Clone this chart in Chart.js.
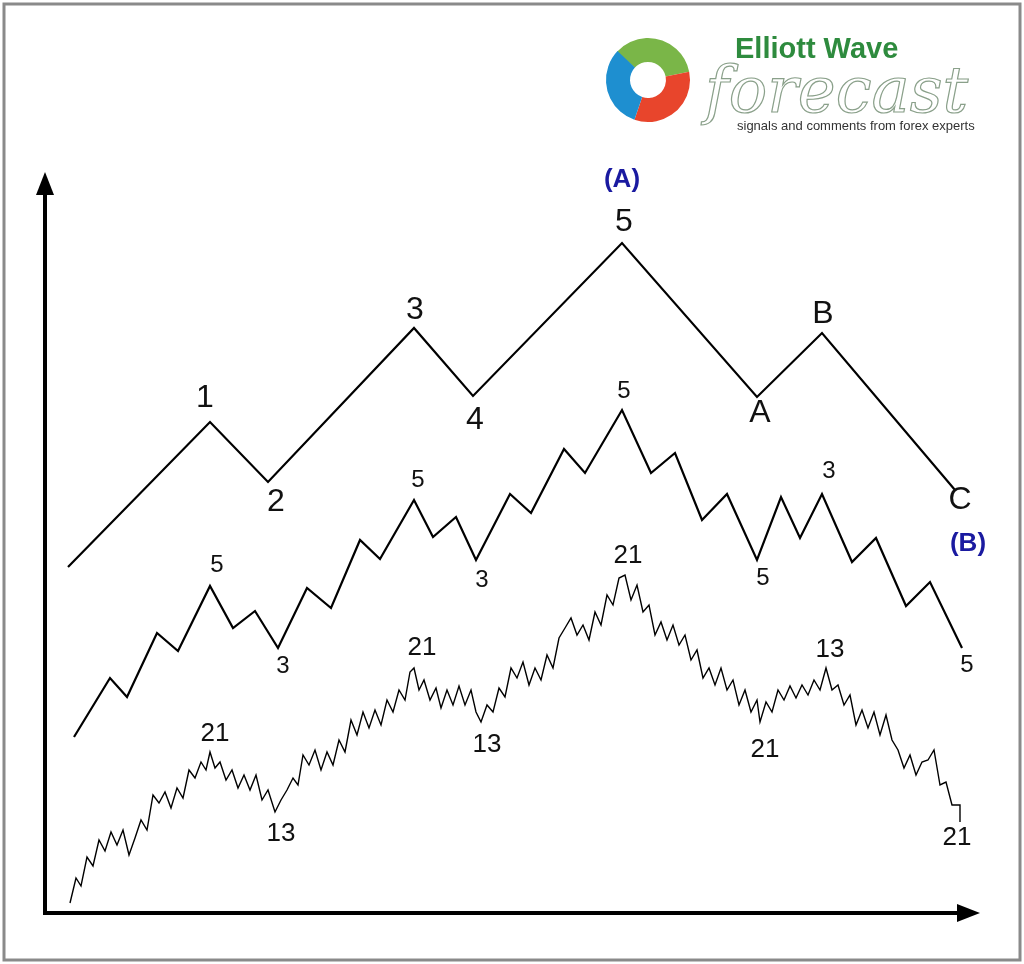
<!DOCTYPE html>
<html><head><meta charset="utf-8">
<script src="https://cdn.jsdelivr.net/npm/chart.js@4"></script>
<style>html,body{margin:0;padding:0;background:#fff}#w{width:1024px;height:964px}</style>
</head><body><div id="w"><canvas id="c"></canvas></div>
<script>
// Wave paths (x, y) in diagram units
const waveDegree1 = [[68,567],[210,422],[268,482],[414,328],[473,396],[622,243],[757,397],[822,333],[955,490]];
const waveDegree2 = [[74,737],[110,678],[127,697],[157,633],[178,651],[210,586],[233,628],[255,611],[278,648],[307,588],[331,608],[360,540],[380,559],[414,500],[433,537],[456,517],[476,560],[510,494],[531,513],[564,449],[585,473],[622,410],[651,473],[675,453],[702,520],[727,494],[757,560],[781,497],[800,538],[822,494],[852,562],[876,538],[906,606],[930,582],[962,648]];
const waveDegree3 = [[70,903],[76,878],[81,886],[87,857],[93,866],[99,840],[105,851],[111,832],[117,845],[123,830],[129,855],[135,838],[141,820],[147,830],[153,795],[159,803],[165,792],[171,808],[177,788],[183,798],[189,770],[195,778],[201,762],[206,770],[210,752],
[215,768],[220,762],[226,780],[232,770],[238,788],[244,775],[250,790],[256,775],[262,800],[268,790],[275,812],
[281,800],[287,790],[293,778],[298,785],[303,755],[309,765],[315,750],[321,770],[327,752],[333,765],[339,740],[345,752],[351,720],[357,735],[363,712],[369,728],[375,710],[381,725],[387,700],[393,712],[399,690],[405,700],[410,672],[414,668],
[419,690],[424,680],[430,700],[436,688],[441,708],[447,690],[453,705],[459,686],[465,705],[471,690],[476,712],[481,722],
[487,705],[493,712],[499,688],[505,697],[511,668],[517,678],[523,662],[529,685],[535,668],[541,680],[547,655],[553,668],[559,638],[565,628],[571,618],[577,635],[583,625],[589,640],[595,612],[601,625],[607,595],[613,605],[619,578],[625,575],
[631,600],[637,585],[643,612],[649,605],[655,635],[661,622],[667,640],[673,625],[679,645],[685,635],[691,660],[697,650],[703,678],[709,668],[715,685],[721,668],[727,690],[733,680],[739,705],[745,690],[751,712],[757,700],[760,722],
[766,702],[772,712],[778,690],[784,700],[790,686],[796,698],[802,685],[808,695],[814,680],[820,690],[826,668],
[832,690],[838,685],[844,705],[850,695],[856,725],[862,710],[868,728],[874,712],[880,735],[886,715],[892,740],[898,750],[904,768],[910,755],[916,775],[922,762],[928,760],[934,750],[940,785],[946,782],[952,805],[960,805],[960,822]];
// Labels: [text, x, y, size, color]
const labels1 = [["1",205,398],["2",276,502],["3",415,310],["4",475,420],["5",624,222],["A",760,413],["B",823,314],["C",960,500]];
const labels2 = [["5",217,565],["3",283,666],["5",418,480],["3",482,580],["5",624,391],["5",763,578],["3",829,471],["5",967,665]];
const labels3 = [["21",215,734],["13",281,834],["21",422,648],["13",487,745],["21",628,556],["21",765,750],["13",830,650],["21",957,838]];
const labelsB = [["(A)",622,180],["(B)",968,544]];

const toPts = a => a.map(p => ({x:p[0], y:p[1]}));
const ds = (d, w) => ({data: toPts(d), borderColor:'#000', borderWidth:w, pointRadius:0, tension:0, fill:false});

const deco = {
  id:'deco',
  beforeDraw(ch){
    const c = ch.ctx, xs = ch.scales.x, ys = ch.scales.y;
    const X = v => xs.getPixelForValue(v), Y = v => ys.getPixelForValue(v);
    c.save();
    c.fillStyle='#fff'; c.fillRect(0,0,1024,964);
    c.strokeStyle='#8a8a8a'; c.lineWidth=3; c.strokeRect(4,4,1016,956);
    // axes
    c.fillStyle='#000'; c.strokeStyle='#000'; c.lineWidth=4;
    c.beginPath(); c.moveTo(X(45),Y(915)); c.lineTo(X(45),Y(190)); c.stroke();
    c.beginPath(); c.moveTo(X(45),Y(913)); c.lineTo(X(960),Y(913)); c.stroke();
    c.beginPath(); c.moveTo(X(45),Y(172)); c.lineTo(X(36),Y(195)); c.lineTo(X(54),Y(195)); c.closePath(); c.fill();
    c.beginPath(); c.moveTo(X(980),Y(913)); c.lineTo(X(957),Y(904)); c.lineTo(X(957),Y(922)); c.closePath(); c.fill();
    // logo
    const cx=X(648), cy=Y(80);
    const arcs=[['#7ab648',-2.4,-0.2],['#e8452c',-0.2,1.9],['#1e8fd0',1.9,3.9]];
    arcs.forEach(a=>{c.beginPath(); c.arc(cx,cy,42,a[1],a[2]); c.arc(cx,cy,18,a[2],a[1],true); c.closePath(); c.fillStyle=a[0]; c.fill();});
    c.fillStyle='#fff'; c.beginPath(); c.arc(cx,cy,16,0,7); c.fill();
    c.textAlign='left'; c.textBaseline='alphabetic';
    c.fillStyle='#2e8b3e'; c.font='bold 29px "Liberation Sans", Arial';
    c.fillText('Elliott Wave', X(735), Y(58));
    c.font='italic 64px "DejaVu Serif", serif'; c.strokeStyle='#8aa08a'; c.lineWidth=1.2;
    c.strokeText('forecast', X(705), Y(112));
    c.fillStyle='#333'; c.font='13px "Liberation Sans", Arial';
    c.fillText('signals and comments from forex experts', X(737), Y(130));
    c.restore();
  },
  afterDatasetsDraw(ch){
    const c = ch.ctx, xs = ch.scales.x, ys = ch.scales.y;
    c.save(); c.textAlign='center'; c.textBaseline='middle'; c.fillStyle='#111';
    const put=(arr,font,col)=>{c.font=font; c.fillStyle=col; arr.forEach(l=>c.fillText(l[0],xs.getPixelForValue(l[1]),ys.getPixelForValue(l[2])));};
    put(labels1,'32px "Liberation Sans", Arial','#111');
    put(labels2,'24px "Liberation Sans", Arial','#111');
    put(labels3,'26px "Liberation Sans", Arial','#111');
    put(labelsB,'bold 26px "Liberation Sans", Arial','#1a1aa0');
    c.restore();
  }
};

new Chart(document.getElementById('c'), {
  type:'line',
  data:{datasets:[ds(waveDegree1,2.2), ds(waveDegree2,2.2), ds(waveDegree3,1.4)]},
  options:{
    responsive:true, maintainAspectRatio:false, animation:false,
    layout:{padding:0},
    plugins:{legend:{display:false}, tooltip:{enabled:false}},
    scales:{
      x:{type:'linear', min:0, max:1024, display:false},
      y:{type:'linear', min:0, max:964, reverse:true, display:false}
    }
  },
  plugins:[deco]
});
</script></body></html>
